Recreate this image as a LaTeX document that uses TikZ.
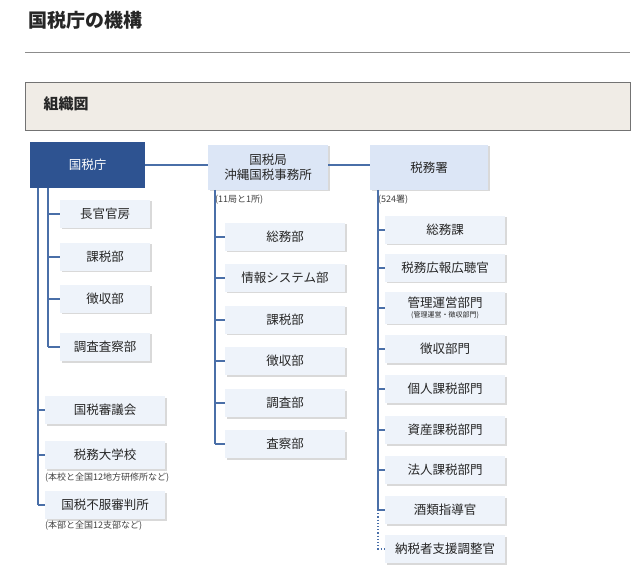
\documentclass[tikz,border=0pt]{standalone}
\usepackage{fontspec}
\setmainfont{Noto Sans CJK JP}
\usetikzlibrary{shadows}
\definecolor{dk}{HTML}{2E5391}
\definecolor{lb}{HTML}{DCE6F6}
\definecolor{sb}{HTML}{EEF3FA}
\definecolor{ln}{HTML}{4A6FA8}
\definecolor{hd}{HTML}{F0ECE6}
\tikzset{
 sbox/.style={fill=sb,draw=none,minimum height=28pt,font=\fontsize{12.5}{14}\selectfont,text=black!85,inner sep=0pt,
   drop shadow={shadow xshift=1.5pt,shadow yshift=-1.5pt,fill=black!25,opacity=.6}},
 lbox/.style={fill=lb,draw=none,font=\fontsize{12.5}{15}\selectfont,text=black!85,inner sep=0pt,
   drop shadow={shadow xshift=1.5pt,shadow yshift=-1.5pt,fill=black!25,opacity=.6}},
 con/.style={draw=ln,line width=1.2pt},
 note/.style={font=\fontsize{9}{11}\selectfont,text=black!75,anchor=west,inner sep=0pt}
}
\begin{document}
\begin{tikzpicture}[x=1pt,y=-1pt]
\useasboundingbox (0,0) rectangle (640,577);
\node[anchor=west,font=\bfseries\fontsize{19}{22}\selectfont,text=black!85] (title) at (25,20) {国税庁の機構};
\draw[black!45,line width=0.8pt] (25,52) -- (630,52);
\draw[fill=hd,draw=black!55] (25,82) rectangle (630,130);
\node[anchor=west,font=\bfseries\fontsize{15}{18}\selectfont,text=black!85] (sosiki) at (40,104) {組織図};
% top row
\node[fill=dk,text=white,minimum width=115pt,minimum height=46pt,font=\fontsize{12.5}{15}\selectfont,inner sep=0pt] (nta) at (87.5,165) {国税庁};
\node[lbox,minimum width=120pt,minimum height=45pt,align=center] (kyoku) at (268,167.5) {国税局\\沖縄国税事務所};
\node[lbox,minimum width=118pt,minimum height=45pt] (sho) at (429,167.5) {税務署};
\draw[con] (nta.east) -- (kyoku.west |- nta.east);
\draw[con] (kyoku.east |- nta.east) -- (sho.west |- nta.east);
\node[note] (n1) at (215,200) {(11局と1所)};
\node[note] (n2) at (378,200) {(524署)};
% left column
\coordinate (L1) at (38,188);
\coordinate (L2) at (48,188);
\foreach \n/\t/\y in {a/長官官房/214,b/課税部/257,c/徴収部/299,d/調査査察部/347}{
  \node[sbox,minimum width=90pt] (\n) at (105,\y) {\t};
  \draw[con] (48,\y) -- (\n.west);
}
\draw[con] (L2) -- (48,347);
\foreach \n/\t/\y in {e/国税審議会/410,f/税務大学校/455,g/国税不服審判所/505}{
  \node[sbox,minimum width=120pt] (\n) at (105,\y) {\t};
  \draw[con] (38,\y) -- (\n.west);
}
\draw[con] (L1) -- (38,505);
\node[note] (n3) at (45,478) {(本校と全国12地方研修所など)};
\node[note] (n4) at (45,526) {(本部と全国12支部など)};
% middle column
\foreach \n/\t/\y in {m1/総務部/237,m2/情報システム部/278,m3/課税部/320,m4/徴収部/361,m5/調査部/403,m6/査察部/444}{
  \node[sbox,minimum width=120pt] (\n) at (285,\y) {\t};
  \draw[con] (215,\y) -- (\n.west);
}
\draw[con] (215,190) -- (215,444);
% right column
\foreach \n/\t/\y in {r1/総務課/230,r2/税務広報広聴官/268,r4/徴収部門/349,r5/個人課税部門/389,r6/資産課税部門/430,r7/法人課税部門/470,r8/酒類指導官/510}{
  \node[sbox,minimum width=120pt] (\n) at (445,\y) {\t};
  \draw[con] (378,\y) -- (\n.west);
}
\node[sbox,minimum width=120pt,minimum height=32pt,align=center] (r3) at (445,308) {管理運営部門\\[-4pt]{\fontsize{7}{8}\selectfont (管理運営・徴収部門)}};
\draw[con] (378,308) -- (r3.west);
\draw[con] (378,190) -- (378,510);
\node[sbox,minimum width=120pt] (r9) at (445,549) {納税者支援調整官};
\draw[ln,line width=1.2pt,dotted] (378,510) -- (378,549) -- (r9.west);
\end{tikzpicture}
\end{document}
